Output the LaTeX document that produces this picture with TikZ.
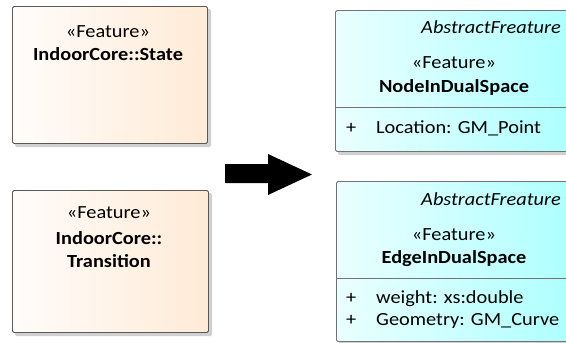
\documentclass[tikz,border=0pt]{standalone}
\usepackage{fontspec}
\setmainfont{Carlito}[FakeStretch=1.1]
\usetikzlibrary{positioning}

\begin{document}
\begin{tikzpicture}[x=1pt,y=-1pt,font=\fontsize{18.5}{22}\selectfont,
  shadowbox/.style={fill=black!18,draw=none,rounded corners=1.5pt},
  oldbox/.style={draw=black!65,line width=0.9pt,rounded corners=1.5pt,left color=orange!2!white,right color=orange!16!white,inner sep=0pt,anchor=north west},
  newbox/.style={draw=black!55,line width=0.9pt,rounded corners=1.5pt,left color=cyan!8!white,right color=cyan!32!white,inner sep=0pt,anchor=north west},
  lbl/.style={anchor=base,inner sep=0pt},
  attr/.style={anchor=base west,inner sep=0pt}]
\useasboundingbox (0,0) rectangle (566,343);
\clip (0,0) rectangle (566,343);
% old model
\fill[shadowbox] (15,9) rectangle (211,147);
\node[oldbox,minimum width=195pt,minimum height=137pt] (state) at (12,6) {};
\node[lbl] (stateSt) at (108,37) {«Feature»};
\node[lbl,font=\fontsize{18.5}{22}\selectfont\bfseries] (stateNm) at (108,60) {IndoorCore::State};
\fill[shadowbox] (15,193) rectangle (212,336);
\node[oldbox,minimum width=196pt,minimum height=142pt] (trans) at (12,190) {};
\node[lbl] (transSt) at (109,218) {«Feature»};
\node[lbl,font=\fontsize{18.5}{22}\selectfont\bfseries] (transNm) at (109,244) {IndoorCore::};
\node[lbl,font=\fontsize{18.5}{22}\selectfont\bfseries] (transNm2) at (109,267) {Transition};
% arrow
\fill[black] (225,164) -- (268,164) -- (268,154) -- (312,174.5) -- (268,195) -- (268,183) -- (225,183) -- cycle;
% new model
\fill[shadowbox] (338,13) rectangle (580,155);
\node[newbox,minimum width=238pt,minimum height=141pt] (node) at (335,10) {};
\draw[black!55,line width=0.9pt] (335,107) -- (573,107);
\node[lbl,anchor=base east,font=\fontsize{18.5}{22}\selectfont\itshape] (nodeAb) at (561,33) {AbstractFreature};
\node[lbl] (nodeSt) at (454,68) {«Feature»};
\node[lbl,font=\fontsize{18.5}{22}\selectfont\bfseries] (nodeNm) at (454,92) {NodeInDualSpace};
\node[attr] (nodeP1) at (346,133) {+};
\node[attr] (nodeA1) at (376,133) {Location: GM\_Point};
\fill[shadowbox] (339,184) rectangle (580,345);
\node[newbox,minimum width=238pt,minimum height=160pt] (edge) at (336,181) {};
\draw[black!55,line width=0.9pt] (336,278) -- (574,278);
\node[lbl,anchor=base east,font=\fontsize{18.5}{22}\selectfont\itshape] (edgeAb) at (561,205) {AbstractFreature};
\node[lbl] (edgeSt) at (454,240) {«Feature»};
\node[lbl,font=\fontsize{18.5}{22}\selectfont\bfseries] (edgeNm) at (454,263) {EdgeInDualSpace};
\node[attr] (edgeP1) at (346,303) {+};
\node[attr] (edgeA1) at (376,303) {weight: xs:double};
\node[attr] (edgeP2) at (346,325) {+};
\node[attr] (edgeA2) at (376,325) {Geometry: GM\_Curve};
\end{tikzpicture}
\end{document}
